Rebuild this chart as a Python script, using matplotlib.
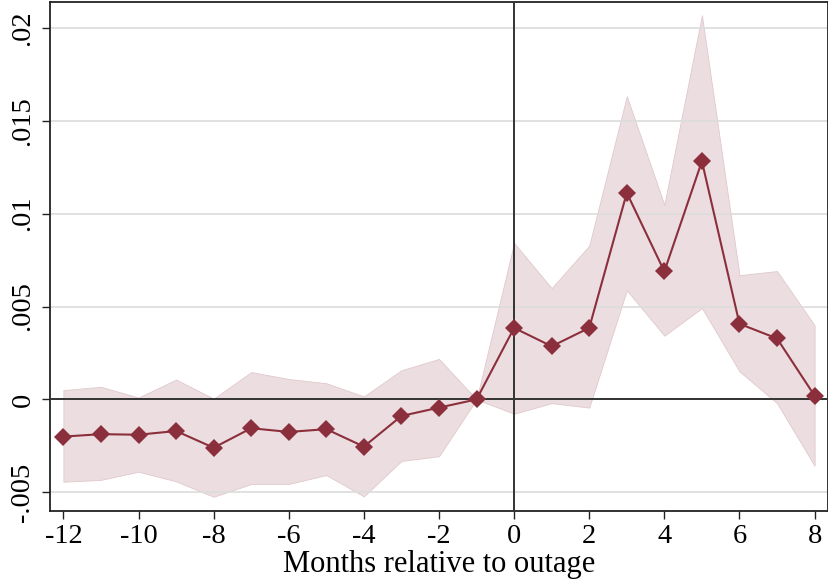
import numpy as np
import matplotlib
matplotlib.use("Agg")
import matplotlib.pyplot as plt

plt.rcParams["font.family"] = ["Liberation Serif", "DejaVu Serif"]
plt.rcParams["font.size"] = 20.5

# event-time coefficients and 95% CI
months = [-12, -11, -10, -9, -8, -7, -6, -5, -4, -3, -2, -1, 0, 1, 2, 3, 4, 5, 6, 7, 8]
coef = [-0.0020, -0.00187, -0.0019, -0.0017, -0.0026, -0.00155, -0.00175, -0.0016,
        -0.00254, -0.00089, -0.00044, 0.0, 0.00385, 0.00286, 0.00385, 0.01112,
        0.00689, 0.01282, 0.00407, 0.00328, 0.0002]
ci_hi = [0.0005, 0.00068, 0.0001, 0.00107, 0.00004, 0.00147, 0.0011, 0.00087,
         0.00016, 0.00157, 0.00218, 0.0, 0.00842, 0.00599, 0.00828, 0.01632,
         0.01048, 0.02068, 0.00669, 0.00691, 0.00399]
ci_lo = [-0.00443, -0.00433, -0.00389, -0.00441, -0.00524, -0.00455, -0.00455,
         -0.00407, -0.00522, -0.00331, -0.00306, 0.0, -0.00077, -0.0002, -0.00044,
         0.00588, 0.00343, 0.00492, 0.00151, -0.0002, -0.00357]

yticks = [-0.005, 0, 0.005, 0.01, 0.015, 0.02]
ylabels = ["-.005", "0", ".005", ".01", ".015", ".02"]
xticks = list(range(-12, 9, 2))

dark = "#8c2f3c"
fill = "#ecdee0"

fig = plt.figure(figsize=(8.29, 5.86), dpi=100)
ax = fig.add_axes([0.0603, 0.1288, 0.9385, 0.8677])

ax.fill_between(months, ci_lo, ci_hi, color=fill, edgecolor="#e0c8cc", linewidth=0.6, zorder=1)
for y in yticks:
    ax.axhline(y, color="#dcdcdc", linewidth=1.2, zorder=2)
ax.axhline(0, color="#333333", linewidth=1.4, zorder=3)
ax.axvline(0, color="#333333", linewidth=1.4, zorder=3)
ax.plot(months, coef, color=dark, linewidth=1.5, marker="D", markersize=9,
        markeredgewidth=0, zorder=4)

ax.set_xlim(-12.357, 8.357)
ax.set_ylim(-0.00598, 0.02139)
ax.set_xticks(xticks)
ax.set_xticklabels([str(x) for x in xticks])
ax.set_yticks(yticks)
ax.set_yticklabels(ylabels, rotation=90, va="center")
ax.tick_params(direction="out", length=5.5, width=1, color="#222222")
ax.tick_params(axis="x", pad=4)
ax.tick_params(axis="y", pad=5)
for s in ax.spines.values():
    s.set_color("#222222")
    s.set_linewidth(1.3)

ax.set_xlabel("Months relative to outage", fontsize=22, labelpad=1)

fig.savefig("out.png", dpi=100)
